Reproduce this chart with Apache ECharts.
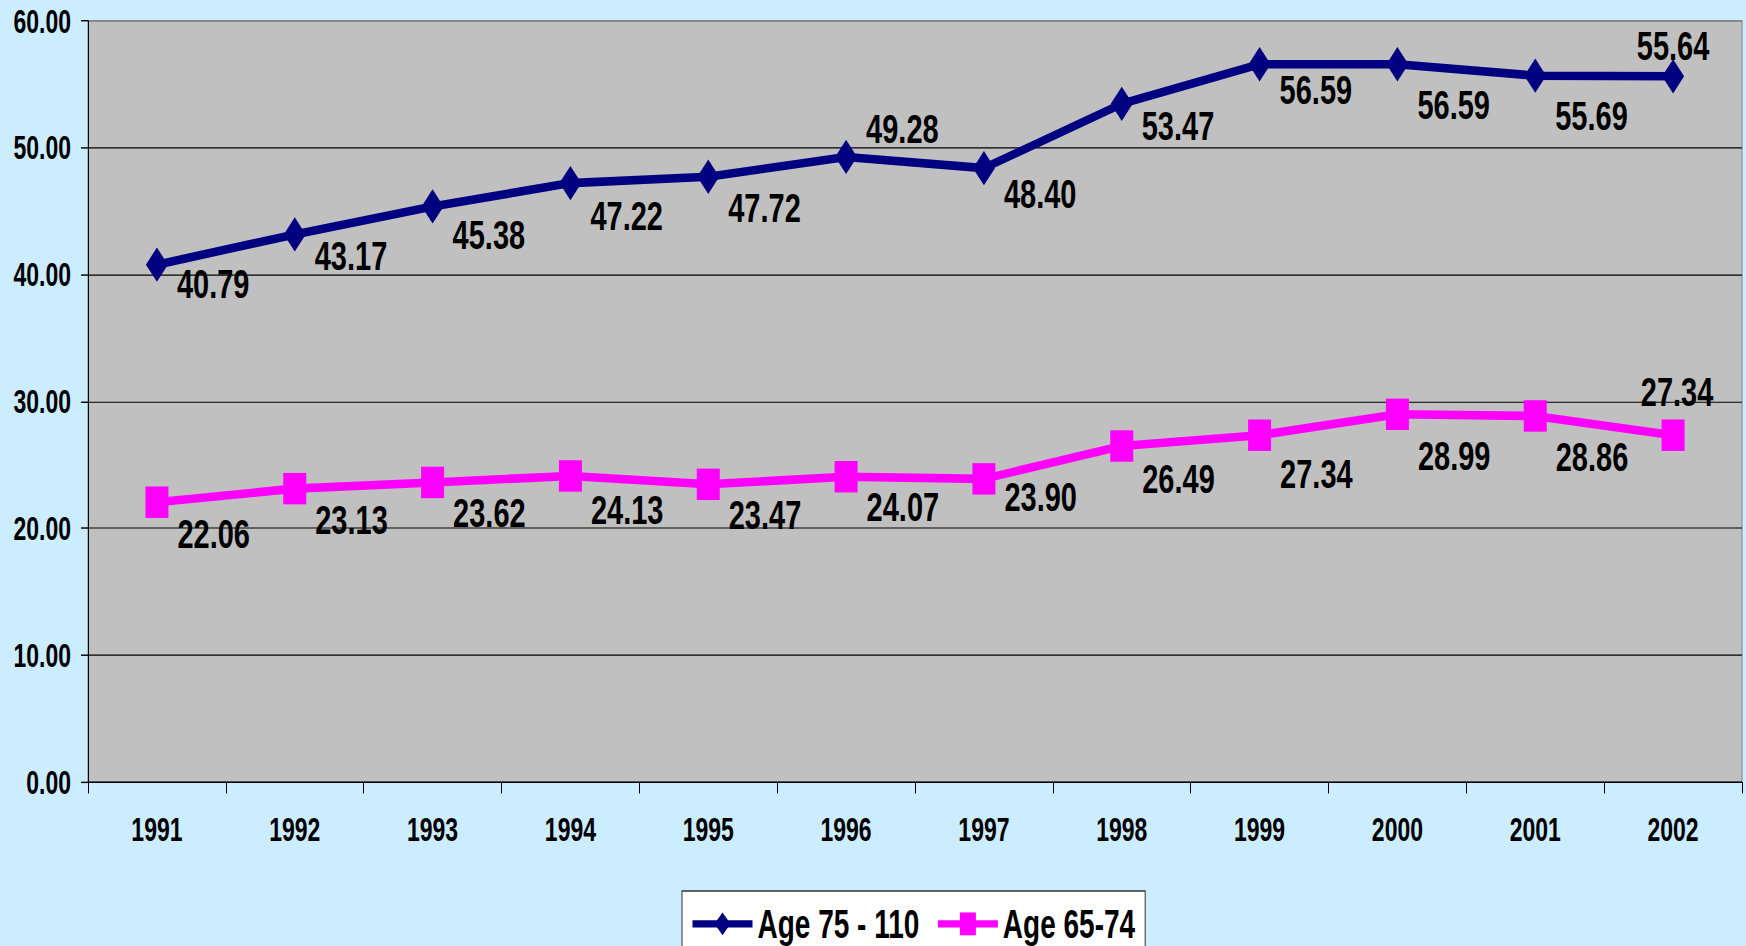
<!DOCTYPE html>
<html>
<head>
<meta charset="utf-8">
<script src="https://cdn.jsdelivr.net/npm/echarts@6/dist/echarts.min.js"></script>
<style>
  html, body { margin: 0; padding: 0; background: #ccecff; overflow: hidden; }
  #wrap { width: 1746px; height: 946px; overflow: hidden; }
  /* 原图整体被纵向拉伸，这里同样拉伸 */
  #chart { width: 1746px; height: 662px; transform: scaleY(1.429); transform-origin: 0 0; }
</style>
</head>
<body>
<div id="wrap"><div id="chart"></div></div>
<script>
// 数据
const years = ['1991', '1992', '1993', '1994', '1995', '1996', '1997', '1998', '1999', '2000', '2001', '2002']
const age75to110 = [40.79, 43.17, 45.38, 47.22, 47.72, 49.28, 48.40, 53.47, 56.59, 56.59, 55.69, 55.64]
const age65to74 = [22.06, 23.13, 23.62, 24.13, 23.47, 24.07, 23.90, 26.49, 27.34, 28.99, 28.86, 27.34]
const yTicks = [0, 10, 20, 30, 40, 50, 60]

const K = 1.429
const FONT = '"Liberation Sans", Arial, sans-serif'

// 标签纵向偏移（原图像素）
const navyDy = [19, 22, 29, 33, 31, -28, 26, 22, 26, 41, 40, -30]
const pinkDy = [32, 31, 31, 34, 31, 30, 18, 33, 39, 42, 41, -43]

const chart = echarts.init(document.getElementById('chart'), null, { renderer: 'svg' })

const buildData = (values, dys, lastDx) => values.map((v, i) => {
  const dy = dys[i] / K
  if (i === values.length - 1) {
    return { value: v, label: { position: 'inside', offset: [lastDx, dy] } }
  }
  return { value: v, label: { offset: [0, dy] } }
})

const labelStyle = {
  show: true,
  position: 'right',
  distance: 9,
  color: '#000',
  fontFamily: FONT,
  fontWeight: 'bold',
  fontSize: 29,
  formatter: (p) => p.value.toFixed(2)
}

const option = {
  backgroundColor: '#ccecff',
  animation: false,
  grid: {
    left: 88,
    top: 21 / K,
    right: 4,
    bottom: 164 / K,
    show: true,
    backgroundColor: '#c0c0c0',
    borderColor: '#808080',
    borderWidth: 1
  },
  legend: {
    left: 682,
    top: 891 / K,
    backgroundColor: '#ffffff',
    borderColor: '#333333',
    borderWidth: 1,
    padding: [8, 10, 40, 8],
    itemWidth: 60,
    itemHeight: 20,
    itemGap: 16,
    lineStyle: { width: 5 },
    textStyle: { color: '#000', fontFamily: FONT, fontWeight: 'bold', fontSize: 28, lineHeight: 30 },
    data: ['Age 75 - 110', 'Age 65-74']
  },
  xAxis: {
    type: 'category',
    data: years,
    boundaryGap: true,
    axisLine: { lineStyle: { color: '#000', width: 1 } },
    axisTick: { show: true, length: 8, lineStyle: { color: '#000' } },
    axisLabel: { color: '#000', fontFamily: FONT, fontWeight: 'bold', fontSize: 23, margin: 22 }
  },
  yAxis: {
    type: 'value',
    min: yTicks[0],
    max: yTicks[yTicks.length - 1],
    interval: 10,
    axisLine: { show: true, lineStyle: { color: '#000', width: 1 } },
    axisTick: { show: true, length: 7, lineStyle: { color: '#000' } },
    axisLabel: {
      color: '#000', fontFamily: FONT, fontWeight: 'bold', fontSize: 23, margin: 17,
      formatter: (v) => v.toFixed(2)
    },
    splitLine: { lineStyle: { color: ['#000', '#000', '#000', '#000', '#000', '#000', '#808080'], width: 0.8 } }
  },
  series: [
    {
      name: 'Age 75 - 110',
      type: 'line',
      data: buildData(age75to110, navyDy, 0),
      symbol: 'diamond',
      symbolSize: [22, 24],
      lineStyle: { color: '#000080', width: 6 },
      itemStyle: { color: '#000080' },
      label: labelStyle,
      z: 3
    },
    {
      name: 'Age 65-74',
      type: 'line',
      data: buildData(age65to74, pinkDy, 4),
      symbol: 'rect',
      symbolSize: [23, 22],
      lineStyle: { color: '#ff00ff', width: 6 },
      itemStyle: { color: '#ff00ff' },
      label: labelStyle,
      z: 2
    }
  ]
}

chart.setOption(option)
</script>
</body>
</html>
